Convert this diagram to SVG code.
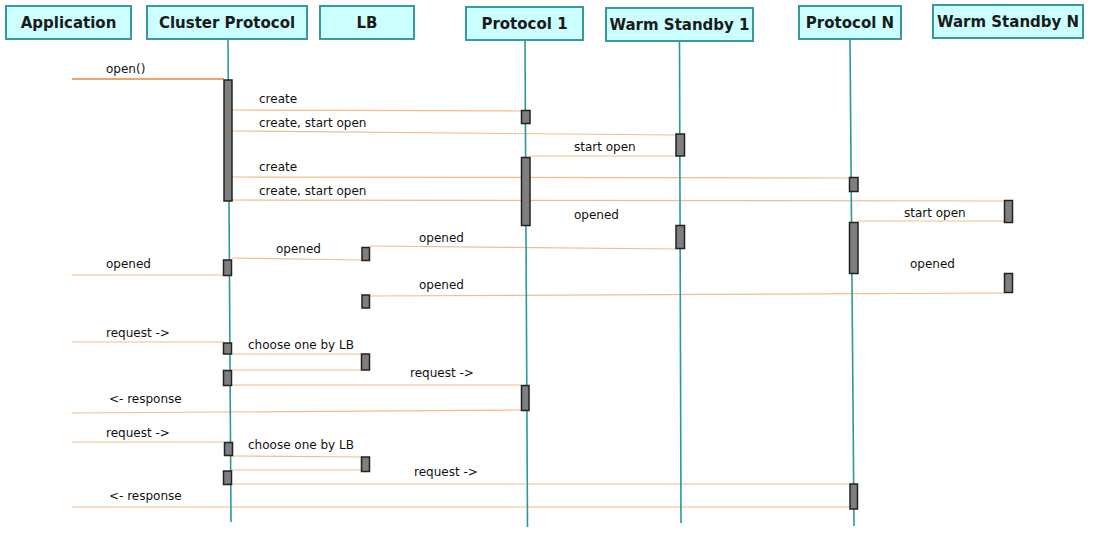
<svg xmlns="http://www.w3.org/2000/svg" width="1093" height="534" viewBox="0 0 1093 534">
<style>
.hdr{fill:#ccffff;stroke:#3a9a9a;stroke-width:2}
.ht{font-family:"DejaVu Sans",Verdana,sans-serif;font-weight:bold;font-size:15px;fill:#1a1a1a;text-anchor:middle}
.life{stroke:#2a9a9a;stroke-width:1.6;fill:none}
.act{fill:#7f7f7f;stroke:#222;stroke-width:1.5}
.msg{stroke:#f3bd88;stroke-width:1.2;fill:none}
.msg0{stroke:#e8883a;stroke-width:1.6;fill:none}
.ml{font-family:"DejaVu Sans",Verdana,sans-serif;font-size:12px;fill:#111}
</style>
<rect width="1093" height="534" fill="#fff"/>
<g id="connectors">
<line class="msg0" x1="72" y1="79" x2="224" y2="79"/>
<text class="ml" x="106" y="73">open()</text>
<line class="msg" x1="232" y1="110" x2="521" y2="111"/>
<text class="ml" x="259" y="103">create</text>
<line class="msg" x1="232" y1="131" x2="676" y2="135"/>
<text class="ml" x="259" y="127">create, start open</text>
<line class="msg" x1="530" y1="156" x2="676" y2="156"/>
<text class="ml" x="574" y="151">start open</text>
<line class="msg" x1="232" y1="177" x2="849" y2="178"/>
<text class="ml" x="259" y="171">create</text>
<line class="msg" x1="232" y1="200" x2="1004" y2="201"/>
<text class="ml" x="259" y="195">create, start open</text>
<line class="msg" x1="858" y1="221" x2="1004" y2="221"/>
<text class="ml" x="904" y="217">start open</text>
<text class="ml" x="574" y="219">opened</text>
<line class="msg" x1="370" y1="246" x2="676" y2="249"/>
<text class="ml" x="419" y="242">opened</text>
<line class="msg" x1="232" y1="258" x2="362" y2="260"/>
<text class="ml" x="276" y="253">opened</text>
<line class="msg" x1="72" y1="275" x2="224" y2="275"/>
<text class="ml" x="106" y="268">opened</text>
<text class="ml" x="910" y="268">opened</text>
<line class="msg" x1="370" y1="296" x2="1004" y2="293"/>
<text class="ml" x="419" y="289">opened</text>
<line class="msg" x1="72" y1="342" x2="224" y2="342"/>
<text class="ml" x="106" y="337">request -&gt;</text>
<line class="msg" x1="232" y1="354" x2="362" y2="354"/>
<text class="ml" x="248" y="349">choose one by LB</text>
<line class="msg" x1="232" y1="370" x2="362" y2="370"/>
<line class="msg" x1="232" y1="385" x2="521" y2="385"/>
<text class="ml" x="410" y="377">request -&gt;</text>
<line class="msg" x1="72" y1="413" x2="521" y2="410"/>
<text class="ml" x="109" y="403">&lt;- response</text>
<line class="msg" x1="72" y1="442" x2="224" y2="442"/>
<text class="ml" x="106" y="437">request -&gt;</text>
<line class="msg" x1="232" y1="456" x2="362" y2="457"/>
<text class="ml" x="248" y="449">choose one by LB</text>
<line class="msg" x1="232" y1="470" x2="362" y2="470"/>
<line class="msg" x1="232" y1="484" x2="850" y2="484"/>
<text class="ml" x="414" y="476">request -&gt;</text>
<line class="msg" x1="72" y1="507" x2="850" y2="507"/>
<text class="ml" x="109" y="500">&lt;- response</text>
</g>
<g id="application">
<rect class="hdr" x="6" y="6" width="125" height="33"/>
<text class="ht" x="68.5" y="28">Application</text>
</g>
<g id="cluster-protocol">
<rect class="hdr" x="147" y="6" width="160" height="33"/>
<text class="ht" x="227" y="28">Cluster Protocol</text>
<line class="life" x1="228" y1="39" x2="231" y2="522"/>
<rect class="act" x="224" y="80" width="8" height="121"/>
<rect class="act" x="223.5" y="260" width="8" height="15.5"/>
<rect class="act" x="223.5" y="343" width="8" height="11"/>
<rect class="act" x="223.5" y="370.5" width="8" height="15"/>
<rect class="act" x="224.5" y="442.5" width="8" height="13"/>
<rect class="act" x="223.5" y="471" width="8" height="13.5"/>
</g>
<g id="lb">
<rect class="hdr" x="320" y="6" width="94" height="33"/>
<text class="ht" x="367" y="28">LB</text>
<rect class="act" x="362" y="247.5" width="7.5" height="13"/>
<rect class="act" x="362" y="295" width="7.5" height="13"/>
<rect class="act" x="361.5" y="354" width="8" height="16"/>
<rect class="act" x="361.5" y="457" width="8" height="14.5"/>
</g>
<g id="protocol-1">
<rect class="hdr" x="466" y="7" width="117" height="33"/>
<text class="ht" x="524.5" y="29">Protocol 1</text>
<line class="life" x1="525" y1="40" x2="527.5" y2="527"/>
<rect class="act" x="521.5" y="110.5" width="8.5" height="13"/>
<rect class="act" x="521.5" y="157.5" width="8.5" height="68"/>
<rect class="act" x="521.5" y="385.5" width="7.5" height="25"/>
</g>
<g id="warm-standby-1">
<rect class="hdr" x="606" y="8" width="147" height="33"/>
<text class="ht" x="679.5" y="30">Warm Standby 1</text>
<line class="life" x1="679.5" y1="41" x2="681" y2="523"/>
<rect class="act" x="676" y="134" width="8.5" height="22"/>
<rect class="act" x="676" y="225.5" width="8.5" height="23"/>
</g>
<g id="protocol-n">
<rect class="hdr" x="799" y="6" width="102" height="33"/>
<text class="ht" x="850" y="28">Protocol N</text>
<line class="life" x1="850" y1="39" x2="854" y2="526"/>
<rect class="act" x="849.5" y="177.5" width="8.5" height="14"/>
<rect class="act" x="849.5" y="222.5" width="8.5" height="51"/>
<rect class="act" x="850" y="484" width="7.5" height="25"/>
</g>
<g id="warm-standby-n">
<rect class="hdr" x="933" y="5" width="150" height="33"/>
<text class="ht" x="1008" y="27">Warm Standby N</text>
<rect class="act" x="1004.5" y="200.5" width="8" height="22"/>
<rect class="act" x="1004.5" y="273.5" width="8" height="19"/>
</g>
</svg>
